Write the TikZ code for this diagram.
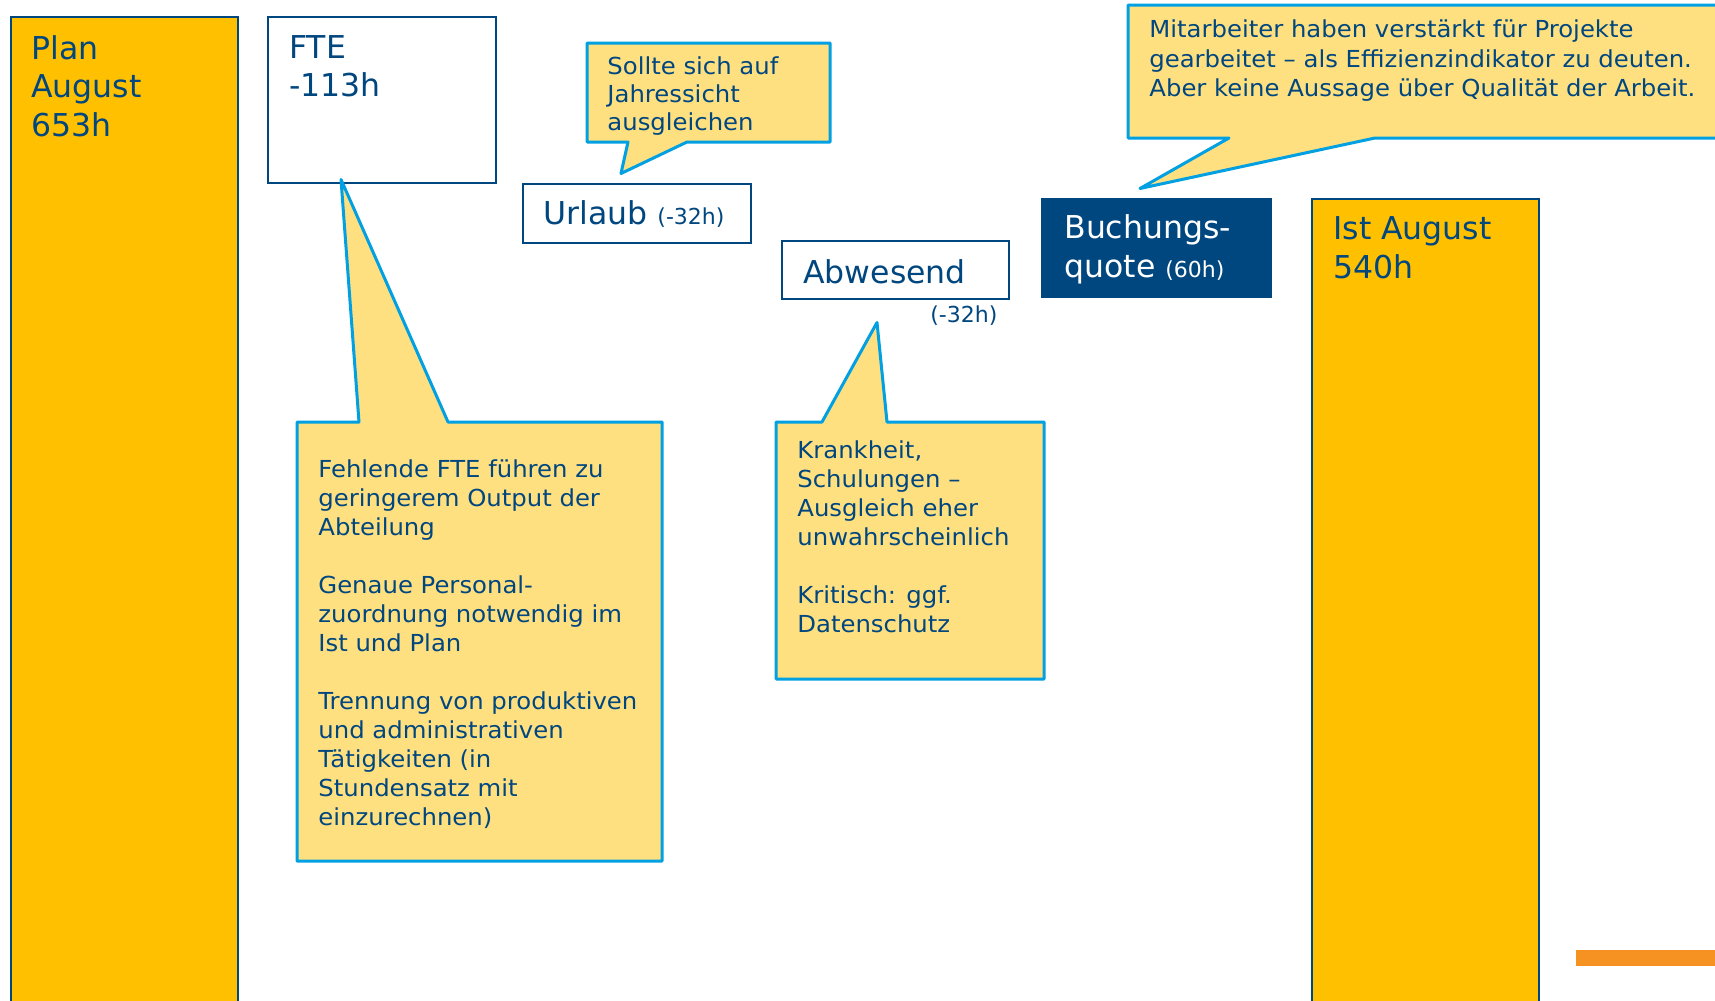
\documentclass[tikz,border=0pt]{standalone}
\usepackage{fontspec}
\setmainfont{DejaVu Sans}
\newfontfamily\notefont[FakeStretch=1.04]{DejaVu Sans}
\usetikzlibrary{fit}
\definecolor{dblue}{RGB}{0,70,127}
\definecolor{gold}{RGB}{255,192,0}
\definecolor{cyanb}{RGB}{0,160,226}
\definecolor{pale}{RGB}{255,224,128}
\definecolor{orng}{RGB}{246,146,34}
\newcommand\sml{\fontsize{11pt}{13pt}\selectfont}
\begin{document}
\begin{tikzpicture}[x=0.5pt,y=-0.5pt,
  box/.style={draw=dblue, line width=1pt, inner sep=0pt},
  barbox/.style={box, fill=gold},
  whitebox/.style={box, fill=white},
  bigtxt/.style={anchor=base west, inner sep=0pt, align=left, text=dblue, font=\fontsize{15.75pt}{19.25pt}\selectfont},
  notetxt/.style={anchor=base west, inner sep=0pt, align=left, text=dblue, font=\notefont\fontsize{11.7pt}{14.5pt}\selectfont},
  callout/.style={draw=cyanb, fill=pale, line width=1.5pt, line join=round}
]
\useasboundingbox (0,0) rectangle (1715,1001);
\fill[white] (0,0) rectangle (1715,1001);

% bars and boxes (text nodes anchored at the baseline of their last line)
\node[barbox, fit={(11,17) (238,1012)}] (plan) {};
\node[bigtxt] (plantxt) at (31,136) {Plan\\August\\653h};
\node[whitebox, fit={(268,17) (496,183)}] (fte) {};
\node[bigtxt] (ftetxt) at (289,97) {FTE\\-113h};
\node[whitebox, fit={(523,184) (751,243)}] (urlaub) {};
\node[bigtxt] (urltxt) at (543,224) {Urlaub {\sml (-32h)}};
\node[whitebox, fit={(782,241) (1009,299)}] (abw) {};
\node[bigtxt] (abwtxt) at (803,283) {Abwesend};
\node[anchor=base west, inner sep=0pt, text=dblue, font=\sml] (abwval) at (930,322) {(-32h)};
\node[box, fill=dblue, fit={(1042,199) (1271,297)}] (buch) {};
\node[bigtxt, text=white] (buchtxt) at (1064,277) {Buchungs-\\quote {\sml (60h)}};
\node[barbox, fit={(1312,199) (1539,1012)}] (ist) {};
\node[bigtxt] (isttxt) at (1333,278) {Ist August\\540h};
\node[fill=orng, inner sep=0pt, fit={(1576,950) (1725,966)}] (obar) {};

% callouts
\coordinate (tipA) at (341,179.5);
\draw[callout] (297,422) -- (359,422) -- (tipA) -- (448,422) -- (662,422) -- (662,861) -- (297,861) -- cycle;
\node[notetxt] (noteA) at (318,825) {Fehlende FTE führen zu\\geringerem Output der\\Abteilung\\[14.5pt]Genaue Personal-\\zuordnung notwendig im\\Ist und Plan\\[14.5pt]Trennung von produktiven\\und administrativen\\Tätigkeiten (in\\Stundensatz mit\\einzurechnen)};

\coordinate (tipB) at (621,173.5);
\draw[callout] (587,43) -- (830,43) -- (830,142) -- (687,142) -- (tipB) -- (628,142) -- (587,142) -- cycle;
\node[notetxt, font=\notefont\fontsize{11.7pt}{14pt}\selectfont] (noteB) at (607,130) {Sollte sich auf\\Jahressicht\\ausgleichen};

\coordinate (tipC) at (877,322.5);
\draw[callout] (776,422) -- (822,422) -- (tipC) -- (887,422) -- (1044,422) -- (1044,679) -- (776,679) -- cycle;
\node[notetxt] (noteC) at (797,632) {Krankheit,\\Schulungen –\\Ausgleich eher\\unwahrscheinlich\\[14.5pt]Kritisch: ggf.\\Datenschutz};

\coordinate (tipD) at (1140,188.5);
\draw[callout] (1128,5) -- (1730,5) -- (1730,138) -- (1375,138) -- (tipD) -- (1229,138) -- (1128,138) -- cycle;
\node[notetxt, font=\notefont\fontsize{11.7pt}{14.75pt}\selectfont] (noteD) at (1149,97) {Mitarbeiter haben verstärkt für Projekte\\gearbeitet – als Effizienzindikator zu deuten.\\Aber keine Aussage über Qualität der Arbeit.};
\end{tikzpicture}
\end{document}
